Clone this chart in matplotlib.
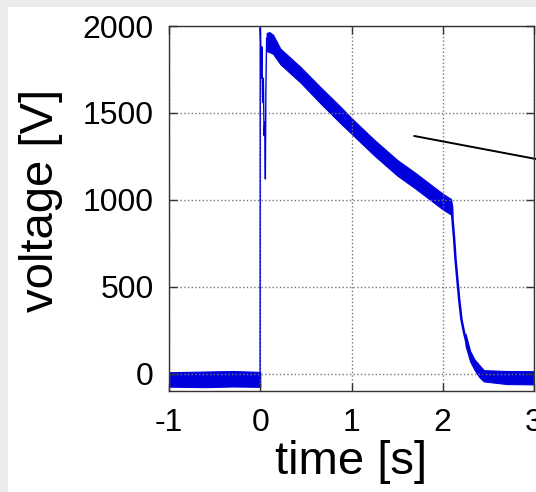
import matplotlib
matplotlib.use("Agg")
import matplotlib.pyplot as plt
import numpy as np

plt.rcParams["font.family"] = ["Liberation Sans", "DejaVu Sans"]
plt.rcParams["axes.unicode_minus"] = False

# --- Data ---

# pre-trigger baseline (noise band)
t_pre = [-1.0, -0.6, -0.3, 0.0]
pre_lo = [-75, -78, -74, -76]
pre_hi = [8, 12, 15, 10]

# switch-on transient (single trace)
t_on = [-0.002, 0.0, 0.004, 0.010, 0.018, 0.026, 0.034, 0.042, 0.050, 0.056, 0.062, 0.070]
v_on = [-30, 1990, 1930, 1700, 1880, 1560, 1700, 1370, 1450, 1120, 1650, 1930]

# slow decay (noise band)
t_dec = [0.07, 0.10, 0.14, 0.22, 0.44, 0.66, 0.88, 1.00, 1.25, 1.50, 1.70, 1.85, 2.00, 2.09, 2.105]
dec_lo = [1855, 1850, 1840, 1780, 1675, 1555, 1440, 1380, 1255, 1140, 1065, 1005, 945, 915, 900]
dec_hi = [1960, 1965, 1950, 1870, 1765, 1648, 1535, 1470, 1345, 1230, 1155, 1095, 1035, 1005, 960]

# fast collapse (single trace)
t_fall = [2.100, 2.107, 2.125, 2.140, 2.160, 2.180, 2.205, 2.234, 2.270, 2.326, 2.380, 2.450]
v_fall = [940, 888, 773, 657, 542, 427, 311, 235, 157, 81, 42, 0]

# tail (noise band)
t_tail = [2.25, 2.30, 2.35, 2.40, 2.45, 2.70, 3.0]
tail_lo = [160, 70, 20, -20, -45, -60, -62]
tail_hi = [230, 130, 80, 50, 20, 15, 14]

# pointer line running off to the right
t_ptr = [1.69, 3.03]
v_ptr = [1367, 1234]

x_ticks = [-1, 0, 1, 2, 3]
y_ticks = [0, 500, 1000, 1500, 2000]

TRACE = "#0000dd"

fig = plt.figure(figsize=(5.36, 4.92), dpi=100)
fig.patch.set_facecolor("#ebebeb")
fig.add_artist(plt.Rectangle((8 / 536, 0), 1, 485 / 492, transform=fig.transFigure,
                             facecolor="white", edgecolor="none", zorder=0))

ax = fig.add_axes([169 / 536, 101 / 492, 365 / 536, 365 / 492])

ax.fill_between(t_pre, pre_lo, pre_hi, color=TRACE, linewidth=0.8)
ax.plot(t_on, v_on, color=TRACE, linewidth=1.0)
ax.fill_between(t_dec, dec_lo, dec_hi, color=TRACE, linewidth=0.8)
ax.plot(t_fall, v_fall, color=TRACE, linewidth=1.8)
ax.fill_between(t_tail, tail_lo, tail_hi, color=TRACE, linewidth=0.8)

ax.plot(t_ptr, v_ptr, color="black", linewidth=1.4, clip_on=False)

ax.set_xlim(-1, 3)
ax.set_ylim(-100, 2000)
ax.set_xticks(x_ticks)
ax.set_yticks(y_ticks)
ax.tick_params(direction="in", length=6, width=1, top=True, right=True,
               labelsize=23, color="#333333")
ax.tick_params(axis="x", pad=12)
ax.tick_params(axis="y", pad=11)
ax.grid(True, linestyle=":", color="#777777", linewidth=1.0)
for sp in ax.spines.values():
    sp.set_color("#333333")
    sp.set_linewidth(1.0)

ax.set_xlabel("time [s]", fontsize=34)
ax.set_ylabel("voltage [V]", fontsize=34)
ax.xaxis.set_label_coords(0.5, -0.134)
ax.yaxis.set_label_coords(-0.29, 0.523)

fig.savefig("out.png", dpi=100)
